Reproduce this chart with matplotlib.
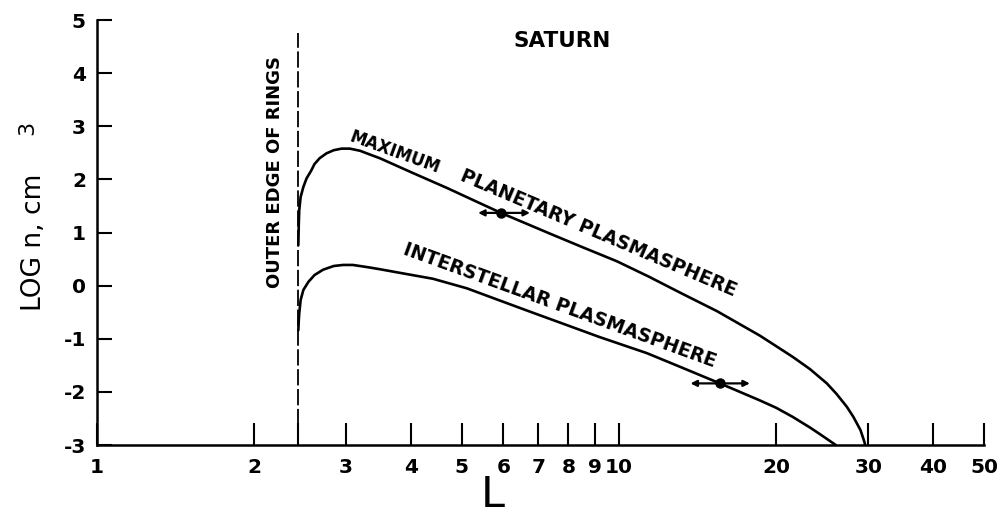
import matplotlib
matplotlib.use("Agg")
import matplotlib.pyplot as plt
from matplotlib.ticker import NullLocator

# ---- data ----
L_max = [2.43, 2.435, 2.44, 2.455, 2.485, 2.52, 2.57, 2.61, 2.67, 2.75, 2.84,
         2.94, 3.05, 3.19, 3.33, 3.48, 4.03, 4.68, 5.42, 5.94, 7.37, 8.53, 9.9,
         11.4, 13.2, 15.4, 18.6, 20.0, 21.5, 23.2, 25.0, 26.1, 27.3, 28.1, 29.0,
         29.5, 29.6]
logn_max = [0.76, 1.15, 1.42, 1.67, 1.86, 2.02, 2.16, 2.29, 2.40, 2.49, 2.55,
            2.58, 2.58, 2.54, 2.47, 2.40, 2.12, 1.84, 1.55, 1.37, 0.98, 0.72,
            0.46, 0.17, -0.15, -0.48, -0.94, -1.14, -1.34, -1.57, -1.84, -2.04,
            -2.28, -2.47, -2.72, -2.94, -3.0]

L_int = [2.43, 2.435, 2.44, 2.455, 2.485, 2.54, 2.61, 2.71, 2.84, 2.96, 3.09,
         3.29, 3.48, 3.81, 4.40, 5.11, 5.91, 6.84, 7.93, 9.19, 11.3, 13.1, 15.6,
         18.6, 20.0, 21.5, 23.2, 24.2, 25.3, 26.0]
logn_int = [-0.84, -0.66, -0.52, -0.27, -0.08, 0.07, 0.20, 0.30, 0.37, 0.39,
            0.39, 0.35, 0.31, 0.24, 0.13, -0.05, -0.28, -0.51, -0.74, -0.97,
            -1.27, -1.53, -1.84, -2.16, -2.30, -2.47, -2.67, -2.79, -2.92, -3.0]

# error-bar points (centre, left, right) in L and value in log n
err_L = [5.94, 15.6]
err_lo = [5.37, 13.7]
err_hi = [6.75, 17.8]
err_y = [1.37, -1.84]

ring_edge_L = 2.43
ring_top = 4.75

x_ticks = [1, 2, ring_edge_L, 3, 4, 5, 6, 7, 8, 9, 10, 20, 30, 40, 50]
x_labels = ["1", "2", "", "3", "4", "5", "6", "7", "8", "9", "10", "20", "30", "40", "50"]
y_ticks = [5, 4, 3, 2, 1, 0, -1, -2, -3]
y_labels = ["5", "4", "3", "2", "1", "0", "-1", "-2", "-3"]

# ---- figure ----
fig = plt.figure(figsize=(10.04, 5.22), dpi=100)
ax = fig.add_axes([0.0966, 0.1475, 0.8835, 0.814])
ax.set_xscale("log")
ax.set_xlim(1, 50)
ax.set_ylim(-3, 5)

lw = 1.9
ax.plot(L_max, logn_max, color="black", lw=lw, solid_capstyle="round",
        solid_joinstyle="round")
ax.plot(L_int, logn_int, color="black", lw=lw, solid_capstyle="round",
        solid_joinstyle="round")

ax.plot([ring_edge_L, ring_edge_L], [-3, ring_top], color="black", lw=1.3,
        dashes=(9, 2))

for c, lo, hi, y in zip(err_L, err_lo, err_hi, err_y):
    ax.annotate("", xy=(lo, y), xytext=(hi, y),
                arrowprops=dict(arrowstyle="<|-|>", color="black", lw=1.6,
                                mutation_scale=9, shrinkA=0, shrinkB=0))
    ax.plot([c], [y], "o", color="black", ms=6.5)

for s in ("top", "right"):
    ax.spines[s].set_visible(False)
for s in ("left", "bottom"):
    ax.spines[s].set_linewidth(1.8)

ax.xaxis.set_minor_locator(NullLocator())
ax.set_xticks(x_ticks)
ax.set_xticklabels(x_labels)
ax.set_yticks(y_ticks)
ax.set_yticklabels(y_labels)
ax.tick_params(axis="x", direction="in", length=16, width=1.5, pad=9,
               labelsize=14.5)
ax.tick_params(axis="y", direction="in", length=11, width=1.5, pad=8,
               labelsize=14.5)
for t in ax.get_xticklabels() + ax.get_yticklabels():
    t.set_fontweight("bold")

fig.text(0.491, 0.052, "L", fontsize=31, ha="center", va="center")
fig.text(0.034, 0.536, "LOG n, cm", rotation=90, fontsize=19, ha="center",
         va="center")
fig.text(0.027, 0.755, "3", rotation=90, fontsize=16, ha="center", va="center")

# annotations
ax.text(0.525, 0.950, "SATURN", transform=ax.transAxes, fontsize=15.5,
        fontweight="bold", ha="center", va="center")
ax.text(2.19, 2.14, "OUTER EDGE OF RINGS", rotation=90, fontsize=13,
        fontweight="bold", ha="center", va="center")
ax.text(3.72, 2.50, "MAXIMUM", rotation=-20, rotation_mode="anchor",
        fontsize=12, fontweight="bold", ha="center", va="center")
ax.text(9.12, 0.99, "PLANETARY PLASMASPHERE", rotation=-23,
        rotation_mode="anchor", fontsize=13.5, fontweight="bold",
        ha="center", va="center")
ax.text(7.69, -0.37, "INTERSTELLAR PLASMASPHERE", rotation=-20,
        rotation_mode="anchor", fontsize=13.5, fontweight="bold",
        ha="center", va="center")

fig.savefig("out.png", dpi=100)
